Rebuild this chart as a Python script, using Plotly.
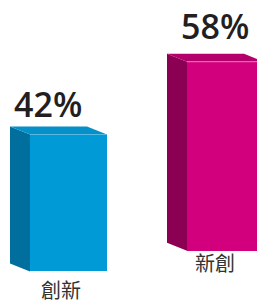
import plotly.graph_objects as go

# ---- data ----
categories = ["創新", "新創"]
values = [42, 58]
value_labels = ["42%", "58%"]

# ---- styling / layout constants ----
W, H = 257, 304
PX_PER_UNIT = 3.26                 # vertical scale (pixels per %)
Y_MAX = H / PX_PER_UNIT
X_CENTER = [68.5, 225.5]           # front-face centres (x axis in pixel units)
BAR_W = 77
BASES = [10.0, 16.3]               # perspective baseline offsets
DEPTH_X = 20                       # side face width in px
DEPTH_Y = 8 / PX_PER_UNIT          # top face depth
FRONT = ["#009BD6", "#D2007C"]
SIDE = ["#006F9E", "#8C0053"]
TOP = ["#0590CA", "#B3006B"]
LABEL_DX = [-21, -11]
LABEL_DY = [30, 36]
CAT_DX = [-8, -11]
CAT_DY = [-18, -12]

fig = go.Figure()

fig.add_trace(go.Bar(
    x=X_CENTER, y=values, base=BASES, width=BAR_W,
    marker=dict(color=FRONT, line=dict(width=0)),
    hoverinfo="skip", showlegend=False,
))

for i, v in enumerate(values):
    xl = X_CENTER[i] - BAR_W / 2
    xr = X_CENTER[i] + BAR_W / 2
    b = BASES[i]
    t = b + v
    # side face
    fig.add_trace(go.Scatter(
        x=[xl, xl, xl - DEPTH_X, xl - DEPTH_X, xl],
        y=[b, t, t + DEPTH_Y, b + DEPTH_Y, b],
        fill="toself", fillcolor=SIDE[i], mode="lines",
        line=dict(width=0, color=SIDE[i]), hoverinfo="skip", showlegend=False,
    ))
    # top face
    fig.add_trace(go.Scatter(
        x=[xl, xr, xr - DEPTH_X, xl - DEPTH_X, xl],
        y=[t, t, t + DEPTH_Y, t + DEPTH_Y, t],
        fill="toself", fillcolor=TOP[i], mode="lines",
        line=dict(width=0, color=TOP[i]), hoverinfo="skip", showlegend=False,
    ))
    # light edge between top and front
    fig.add_trace(go.Scatter(
        x=[xl, xr], y=[t, t], mode="lines",
        line=dict(width=0.8, color="rgba(255,255,255,0.45)"),
        hoverinfo="skip", showlegend=False,
    ))
    fig.add_annotation(
        x=X_CENTER[i] + LABEL_DX[i], y=t, yshift=LABEL_DY[i],
        text=value_labels[i], showarrow=False, xanchor="center", yanchor="middle",
        borderpad=0,
        font=dict(family="Open Sans", size=34, color="#231F20", weight=600),
    )
    fig.add_annotation(
        x=X_CENTER[i] + CAT_DX[i], y=b, yshift=CAT_DY[i],
        text=categories[i], showarrow=False, xanchor="center", yanchor="middle",
        borderpad=0,
        font=dict(family="Noto Sans CJK TC", size=20, color="#333333"),
    )

fig.update_layout(
    width=W, height=H, margin=dict(l=0, r=0, t=0, b=0),
    paper_bgcolor="white", plot_bgcolor="white",
    xaxis=dict(range=[0, W], visible=False, fixedrange=True),
    yaxis=dict(range=[0, Y_MAX], visible=False, fixedrange=True),
    bargap=0,
)

fig.write_html(
    "out.html",
    config={"displayModeBar": False},
    post_script="document.body.style.margin='0';document.body.style.overflow='hidden';",
)
